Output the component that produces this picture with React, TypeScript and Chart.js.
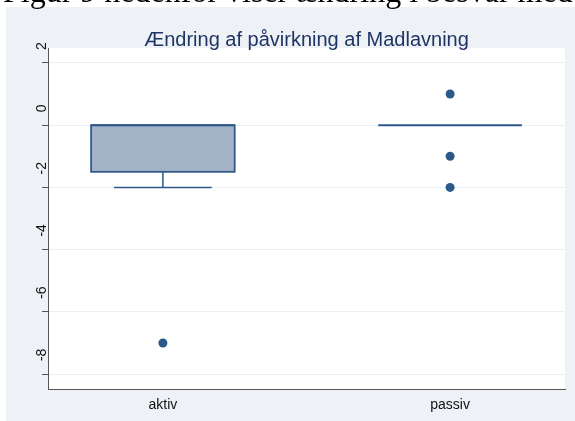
import React, { useEffect, useRef } from 'react';
import { Chart, registerables } from 'chart.js';

Chart.register(...registerables);

// Box plot summary per group
const categories = ['aktiv', 'passiv'];
const positions = [1, 2];
const lowerWhisker = [-2, 0];
const lowerQuartile = [-1.5, 0];
const medians = [0, 0];
const upperQuartile = [0, 0];
const upperWhisker = [0, 0];

// Outside values per group
const outliersAktiv = [-7];
const outliersPassiv = [1, -1, -2];

const yTicks = [2, 0, -2, -4, -6, -8];
const chartTitle = 'Ændring af påvirkning af Madlavning';
const leadText = 'Figur 9 nedenfor viser ændring i besvar med';

const FONT = '"Liberation Sans", Arial, sans-serif';
const BOX_FILL = '#a2b3c8';
const BOX_LINE = '#2c5888';
const DOT = '#2b5a89';
const AXIS = '#555555';
const GRID = '#e9f0f4';
const PANEL = '#eef2f6';
const TITLE_COLOR = '#1f3565';
const BOX_HALF = 0.25;
const CAP_HALF = 0.17;

const boxPlugin = {
  id: 'boxes',
  beforeDraw(chart: any) {
    const { ctx, chartArea: a } = chart;
    ctx.save();
    ctx.fillStyle = '#ffffff';
    ctx.fillRect(a.left, a.top, a.right - a.left, a.bottom - a.top);
    ctx.restore();
  },
  beforeDatasetsDraw(chart: any) {
    const { ctx, scales } = chart;
    const x = scales.x;
    const y = scales.y;
    ctx.save();
    positions.forEach((p, i) => {
      const cx = x.getPixelForValue(p);
      const half = x.getPixelForValue(p + BOX_HALF) - cx;
      const cap = x.getPixelForValue(p + CAP_HALF) - cx;
      const top = y.getPixelForValue(upperQuartile[i]);
      const bot = y.getPixelForValue(lowerQuartile[i]);
      const lo = y.getPixelForValue(lowerWhisker[i]);
      const hi = y.getPixelForValue(upperWhisker[i]);
      const med = y.getPixelForValue(medians[i]);

      ctx.strokeStyle = BOX_LINE;
      // whiskers
      ctx.lineWidth = 1.5;
      if (lo > bot + 0.5) {
        ctx.beginPath();
        ctx.moveTo(cx, bot);
        ctx.lineTo(cx, lo);
        ctx.moveTo(cx - cap, lo);
        ctx.lineTo(cx + cap, lo);
        ctx.stroke();
      }
      if (hi < top - 0.5) {
        ctx.beginPath();
        ctx.moveTo(cx, top);
        ctx.lineTo(cx, hi);
        ctx.moveTo(cx - cap, hi);
        ctx.lineTo(cx + cap, hi);
        ctx.stroke();
      }
      // box
      if (bot - top > 0.5) {
        ctx.fillStyle = BOX_FILL;
        ctx.fillRect(cx - half, top, 2 * half, bot - top);
        ctx.lineWidth = 1.75;
        ctx.strokeRect(cx - half, top, 2 * half, bot - top);
      }
      // median
      ctx.lineWidth = 2;
      ctx.beginPath();
      ctx.moveTo(cx - half, med);
      ctx.lineTo(cx + half, med);
      ctx.stroke();
    });
    ctx.restore();
  },
  afterDraw(chart: any) {
    const { ctx, scales, chartArea: a } = chart;
    const y = scales.y;
    ctx.save();
    // rotated y tick labels
    ctx.fillStyle = '#111111';
    ctx.font = `14px ${FONT}`;
    ctx.textAlign = 'left';
    ctx.textBaseline = 'middle';
    yTicks.forEach((v) => {
      const py = y.getPixelForValue(v);
      ctx.save();
      ctx.translate(a.left - 6, py - 13);
      ctx.rotate(-Math.PI / 2);
      ctx.fillText(String(v), 0, 0);
      ctx.restore();
    });
    // title
    ctx.fillStyle = TITLE_COLOR;
    ctx.font = `20px ${FONT}`;
    ctx.textAlign = 'center';
    ctx.textBaseline = 'alphabetic';
    ctx.fillText(chartTitle, (a.left + a.right) / 2, a.top - 2);
    ctx.restore();
  },
};

export default function App() {
  const ref = useRef<HTMLCanvasElement | null>(null);

  useEffect(() => {
    if (!ref.current) return;
    const points = [
      ...outliersAktiv.map((v) => ({ x: positions[0], y: v })),
      ...outliersPassiv.map((v) => ({ x: positions[1], y: v })),
    ];
    const chart = new Chart(ref.current, {
      type: 'scatter',
      data: {
        datasets: [
          {
            data: points,
            pointRadius: 4.5,
            pointHoverRadius: 4.5,
            backgroundColor: DOT,
            borderWidth: 0,
          },
        ],
      },
      options: {
        animation: false,
        responsive: false,
        events: [],
        layout: { padding: { top: 41, right: 10, left: 0, bottom: 0 } },
        plugins: {
          legend: { display: false },
          tooltip: { enabled: false },
          title: { display: false },
        },
        scales: {
          x: {
            type: 'linear',
            min: 0.6,
            max: 2.4,
            afterBuildTicks: (s: any) => {
              s.ticks = positions.map((p) => ({ value: p }));
            },
            afterFit: (s: any) => {
              s.height = 32;
            },
            grid: { display: false, drawTicks: false },
            border: { display: true, color: AXIS, width: 1 },
            ticks: {
              padding: 8,
              color: '#111111',
              font: { family: FONT, size: 14 },
              callback: (v: any) => categories[positions.indexOf(Number(v))] ?? '',
            },
          },
          y: {
            type: 'linear',
            min: -8.48,
            max: 2.48,
            afterBuildTicks: (s: any) => {
              s.ticks = yTicks.map((v) => ({ value: v }));
            },
            afterFit: (s: any) => {
              s.width = 42;
            },
            grid: {
              color: GRID,
              lineWidth: 1,
              tickColor: AXIS,
              tickLength: 6,
              drawTicks: true,
            },
            border: { display: true, color: AXIS, width: 1 },
            ticks: { display: false },
          },
        },
      },
      plugins: [boxPlugin],
    });
    return () => chart.destroy();
  }, []);

  return (
    <div style={{ position: 'absolute', left: 0, top: 0, width: 575, height: 421, overflow: 'hidden', background: '#ffffff' }}>
      <div
        style={{
          position: 'absolute',
          left: 3,
          top: -25,
          whiteSpace: 'nowrap',
          fontFamily: '"Liberation Serif", "Times New Roman", serif',
          fontSize: 32,
          lineHeight: '32px',
          color: '#000',
          zIndex: 2,
        }}
      >
        {leadText}
      </div>
      <div style={{ position: 'absolute', left: 6, top: 7, width: 569, height: 414, background: PANEL }}>
        <canvas ref={ref} width={569} height={414} style={{ display: 'block' }} />
      </div>
    </div>
  );
}
